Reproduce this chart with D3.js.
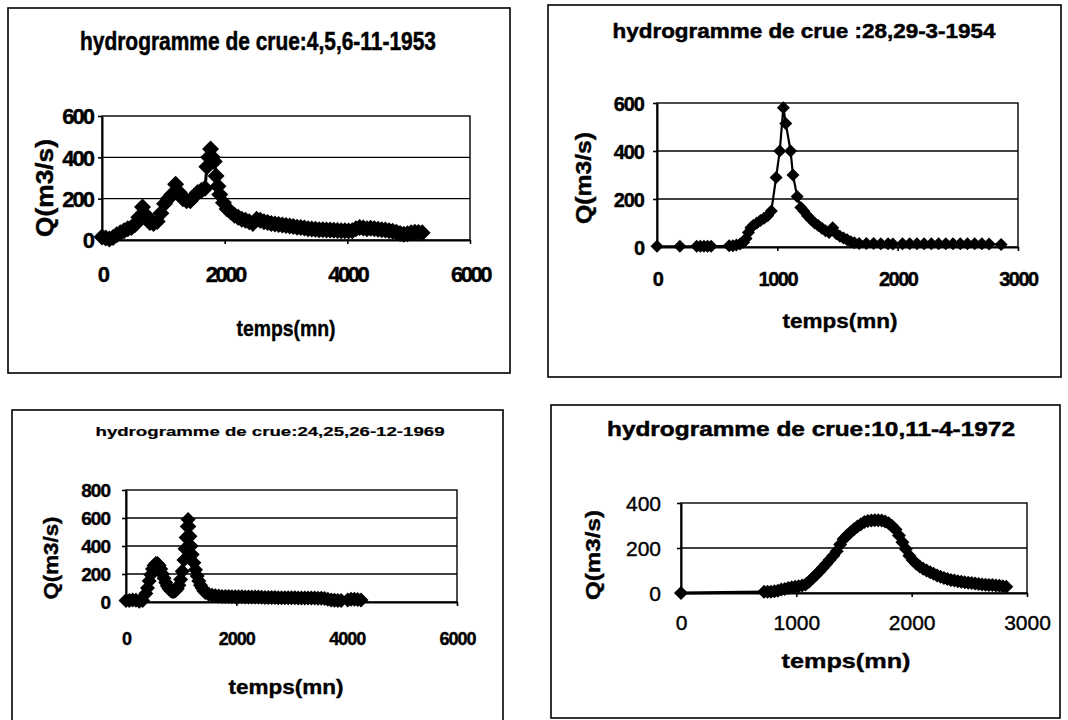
<!DOCTYPE html>
<html><head><meta charset="utf-8">
<script src="https://cdn.jsdelivr.net/npm/d3@7"></script>
<style>body{margin:0;background:#fff} text{font-family:"Liberation Sans",Arial,sans-serif;fill:#000}</style>
</head><body>
<svg id="c" width="1068" height="720"></svg>
<script>
// ---------- DATA ----------
const titles = ["hydrogramme de crue:4,5,6-11-1953", "hydrogramme de crue :28,29-3-1954",
                "hydrogramme de crue:24,25,26-12-1969", "hydrogramme de crue:10,11-4-1972"];
const xLabel = "temps(mn)";
const yLabel = "Q(m3/s)";

const t1953 = [0,60,120,180,240,300,360,420,480,540,600,660,720,780,840,900,960,1020,1080,1140,1200,1260,1320,1380,1440,1500,1560,1620,1680,
  1710,1740,1770,1800,1830,1860,1890,1920,
  1980,2040,2100,2160,2220,2280,2340,2400,2460,2520,2580,2640,2700,2760,2820,2880,2940,3000,3060,3120,3180,3240,3300,3360,3420,3480,3540,3600,3660,3720,
  3780,3840,3900,3960,4020,4080,4140,4200,4260,4320,4380,4440,4500,4560,4620,4680,4740,4800,4860,4920,4980,5040,5100,5160,5220];
const q1953 = [15,10,5,12,25,35,45,55,60,75,110,160,120,85,80,90,130,175,200,220,270,230,200,190,190,210,230,240,250,
  355,400,440,400,380,310,260,220,
  180,150,135,120,110,100,95,88,80,100,95,88,85,80,78,75,72,70,68,65,62,60,58,55,53,52,50,50,48,48,
  47,46,45,45,44,45,55,60,58,55,57,55,52,50,48,45,42,38,32,28,30,35,38,36,35];

const t1954 = [0,190,330,360,390,420,450,600,630,660,690,720,740,760,780,800,830,860,890,920,950,990,1020,1050,1070,1110,1130,1165,1195,
  1220,1250,1280,1310,1340,1370,1400,1430,1460,1490,1520,1550,1580,1610,1640,1680,1740,1800,1860,1920,1960,
  2040,2100,2160,2220,2280,2340,2400,2460,2520,2580,2640,2700,2760,2860];
const q1954 = [3,3,3,3,3,3,3,5,5,8,12,20,35,60,80,90,100,110,120,130,150,290,400,580,515,400,300,210,165,
  150,130,115,100,90,78,68,60,80,55,45,38,30,22,18,15,15,15,14,14,12,
  14,14,14,14,14,14,14,14,14,14,14,14,12,10];

const t1969 = [0,60,120,180,240,300,360,390,420,450,480,510,540,570,600,630,660,690,720,750,780,810,840,870,900,930,960,990,1020,1050,
  1070,1090,1110,1125,1140,1160,1180,1200,1230,1260,1290,1320,1350,1380,1410,1440,1500,1560,1620,1680,1740,1800,1860,1920,1980,
  2040,2100,2160,2220,2280,2340,2400,2460,2520,2580,2640,2700,2760,2820,2880,2940,3000,3060,3120,3180,3240,3300,3360,3420,3480,
  3540,3600,3660,3720,3780,3840,3900,4020,4080,4140,4200,4260];
const q1969 = [10,10,15,12,5,10,60,100,150,195,235,260,275,275,260,235,200,170,140,115,95,82,75,75,82,95,120,160,220,300,
  380,460,540,590,540,470,400,340,280,230,185,150,120,100,80,68,55,48,44,42,40,40,39,38,38,
  37,37,36,36,35,35,35,34,33,32,32,32,31,31,30,30,30,30,29,29,29,28,28,28,27,
  26,25,20,15,12,10,10,15,20,20,18,15];

const t1972 = [0,720,750,780,810,840,870,900,930,960,990,1020,1050,1080,1110,1140,1170,1200,1230,1260,1290,1320,1350,1380,1410,
  1440,1470,1500,1530,1560,1590,1620,1650,1680,1710,1740,1770,1800,1830,1860,1890,1920,1950,1980,2010,2040,2070,2100,2130,2160,
  2190,2220,2250,2280,2310,2340,2370,2400,2430,2460,2490,2520,2550,2580,2610,2640,2670,2700,2730,2760,2790,2820];
const q1972 = [0,5,5,6,8,10,15,18,22,25,28,30,33,38,50,65,80,95,112,130,148,165,185,215,240,
  255,270,283,295,305,315,320,322,323,323,322,318,310,298,282,255,225,195,165,145,130,118,108,100,92,
  85,78,72,67,62,58,55,52,50,48,46,44,42,40,38,37,36,35,33,32,30,28];

const xTicks1953 = [0,2000,4000,6000], yTicks1953 = [0,200,400,600];
const xTicks1954 = [0,1000,2000,3000], yTicks1954 = [0,200,400,600];
const xTicks1969 = [0,2000,4000,6000], yTicks1969 = [0,200,400,600,800];
const xTicks1972 = [0,1000,2000,3000], yTicks1972 = [0,200,400];

// ---------- LAYOUT ----------
const layouts = [
  {box:[8,8,502,365], plot:[102,470,240,116], title:[258,50,25,356,"bold"], ylab:[45,188,23,98], yt:[93,22,"bold",-2], xt:[282,22,"bold",-2.5],
   xlab:[286,336,22,99], msize:17, lw:3},
  {box:[548,5,513,372], plot:[657,1018,247,103], title:[804,38,21,383,"bold"], ylab:[583,178,22,92], yt:[644,20,"bold",-1], xt:[286,20,"bold",-1.5],
   xlab:[840,328,21,115], msize:13, lw:2.2},
  {box:[12,410,491,330], plot:[126,457,602,490], title:[270,436,13,349,"bold"], ylab:[51,558,20,83], yt:[110,19,"bold",-1], xt:[645,18,"bold",-1],
   xlab:[286,694,21,115], msize:15, lw:3},
  {box:[551,405,509,313], plot:[681,1027,593,503], title:[811,436,21,408,"bold"], ylab:[593,555,20,90], yt:[661,21,"normal",0], xt:[630,21,"normal",0],
   xlab:[846,668,21,129], msize:14, lw:3}
];
const series = [
  {t:t1953, q:q1953, xd:6000, yd:600, xt:xTicks1953, yt:yTicks1953},
  {t:t1954, q:q1954, xd:3000, yd:600, xt:xTicks1954, yt:yTicks1954},
  {t:t1969, q:q1969, xd:6000, yd:800, xt:xTicks1969, yt:yTicks1969},
  {t:t1972, q:q1972, xd:3000, yd:400, xt:xTicks1972, yt:yTicks1972}
];

const svg = d3.select("#c");

series.forEach((s, i) => {
  const L = layouts[i];
  const g = svg.append("g");
  g.append("rect").attr("x", L.box[0]).attr("y", L.box[1]).attr("width", L.box[2]).attr("height", L.box[3])
    .attr("fill", "none").attr("stroke", "#000").attr("stroke-width", 1.6);

  const x = d3.scaleLinear().domain([0, s.xd]).range([L.plot[0], L.plot[1]]);
  const y = d3.scaleLinear().domain([0, s.yd]).range([L.plot[2], L.plot[3]]);

  // gridlines
  g.selectAll("line.grid").data(s.yt.filter(v => v > 0 && v < s.yd)).join("line")
    .attr("x1", L.plot[0]).attr("x2", L.plot[1]).attr("y1", d => y(d)).attr("y2", d => y(d))
    .attr("stroke", "#000").attr("stroke-width", 1.4);
  // plot border
  g.append("rect").attr("x", L.plot[0]).attr("y", L.plot[3]).attr("width", L.plot[1] - L.plot[0]).attr("height", L.plot[2] - L.plot[3])
    .attr("fill", "none").attr("stroke", "#000").attr("stroke-width", 1.4);

  // axes
  const ya = g.append("g").attr("transform", `translate(${L.plot[0]},0)`)
    .call(d3.axisLeft(y).tickValues(s.yt).tickSize(4).tickSizeOuter(0).tickFormat(d3.format("d")));
  const xa = g.append("g").attr("transform", `translate(0,${L.plot[2]})`)
    .call(d3.axisBottom(x).tickValues(s.xt).tickSize(4).tickSizeOuter(0).tickFormat(d3.format("d")));
  [ya, xa].forEach(a => { a.select(".domain").attr("stroke", "#000").attr("stroke-width", 2); a.selectAll(".tick line").attr("stroke", "#000").attr("stroke-width", 1.6); });
  ya.selectAll(".tick text")
    .attr("x", L.yt[0] - L.plot[0]).attr("dy", "0.35em").attr("text-anchor", "end")
    .style("font-size", L.yt[1] + "px").style("font-weight", L.yt[2]).style("letter-spacing", L.yt[3] + "px")
    .style("font-family", '"Liberation Sans",Arial,sans-serif').attr("fill", "#000")
    .attr("stroke", "#000").attr("stroke-width", 0.4);
  xa.selectAll(".tick text").attr("y", L.xt[0] - L.plot[2]).attr("dy", null)
    .style("font-size", L.xt[1] + "px").style("font-weight", L.xt[2]).style("letter-spacing", L.xt[3] + "px")
    .style("font-family", '"Liberation Sans",Arial,sans-serif').attr("fill", "#000")
    .attr("stroke", "#000").attr("stroke-width", 0.4);

  // data line + diamond markers
  const pts = s.t.map((tv, k) => [tv, s.q[k]]);
  g.append("path").datum(pts)
    .attr("d", d3.line().x(d => x(d[0])).y(d => y(d[1])))
    .attr("fill", "none").attr("stroke", "#000").attr("stroke-width", L.lw);
  const side = L.msize / Math.SQRT2;
  g.selectAll("path.mk").data(pts).join("path").attr("class", "mk")
    .attr("d", d3.symbol(d3.symbolSquare, side * side)())
    .attr("transform", d => `translate(${x(d[0])},${y(d[1])}) rotate(45)`)
    .attr("fill", "#000");

  // title
  g.append("text").attr("x", L.title[0]).attr("y", L.title[1]).attr("text-anchor", "middle")
    .style("font-size", L.title[2] + "px").style("font-weight", L.title[4])
    .attr("stroke", "#000").attr("stroke-width", i === 2 ? 0.2 : 0.5)
    .attr("textLength", L.title[3]).attr("lengthAdjust", "spacingAndGlyphs").text(titles[i]);
  // y label
  g.append("text").attr("transform", `translate(${L.ylab[0]},${L.ylab[1]}) rotate(-90)`).attr("text-anchor", "middle")
    .attr("dy", "0.35em").style("font-size", L.ylab[2] + "px").style("font-weight", "bold")
    .attr("stroke", "#000").attr("stroke-width", 0.4)
    .attr("textLength", L.ylab[3]).attr("lengthAdjust", "spacingAndGlyphs").text(yLabel);
  // x label
  g.append("text").attr("x", L.xlab[0]).attr("y", L.xlab[1]).attr("text-anchor", "middle")
    .style("font-size", L.xlab[2] + "px").style("font-weight", "bold")
    .attr("stroke", "#000").attr("stroke-width", 0.4)
    .attr("textLength", L.xlab[3]).attr("lengthAdjust", "spacingAndGlyphs").text(xLabel);
});
</script>
</body></html>
